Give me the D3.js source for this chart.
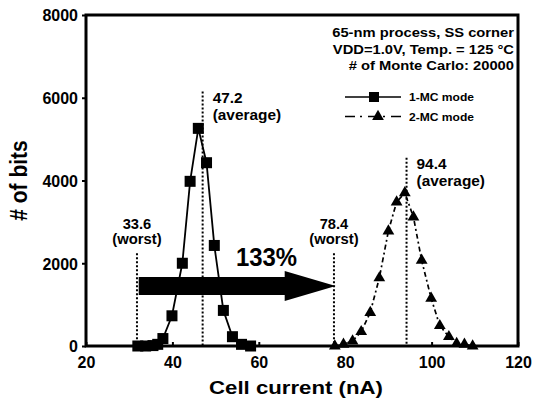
<!DOCTYPE html>
<html><head><meta charset="utf-8">
<script src="https://cdn.jsdelivr.net/npm/d3@7"></script>
<style>body{margin:0;background:#fff}svg{display:block}text{font-family:"Liberation Sans",Arial,sans-serif;font-weight:bold;fill:#000}</style>
</head><body><svg id="c" width="534" height="401"></svg>
<script>
// ---- data ----
const mc1X = [32.0, 33.8, 35.5, 36.6, 37.8, 39.9, 42.3, 44.1, 46.0, 47.9, 49.7, 51.8, 53.9, 56.0, 58.1];
const mc1Y = [0, 0, 10, 40, 180, 730, 2000, 3980, 5260, 4430, 2430, 860, 225, 40, 0];
const mc2X = [77.6, 79.6, 81.7, 83.7, 85.8, 87.9, 90.0, 91.9, 93.8, 95.8, 97.7, 99.9, 101.9, 104.0, 105.8, 107.6, 109.5];
const mc2Y = [0, 40, 120, 345, 810, 1645, 2780, 3480, 3700, 3115, 2070, 1150, 490, 225, 60, 40, 0];
const xTicks = [20, 40, 60, 80, 100, 120];
const yTicks = [0, 2000, 4000, 6000, 8000];
const refX = [31.8, 47.0, 77.4, 94.2];
const refTop = [2240, 6150, 2240, 4550];
const refVal = ["33.6", "47.2", "78.4", "94.4"];
const refKind = ["(worst)", "(average)", "(worst)", "(average)"];
const seriesNames = ["1-MC mode", "2-MC mode"];
const infoLines = ["65-nm process, SS corner", "VDD=1.0V, Temp. = 125 °C", "# of Monte Carlo: 20000"];
const arrowFrom = 32.2, arrowTo = 77.8, arrowLevel = 1450;
const gainLabel = "133%", gainX = 54.7, gainY = 1930;

// ---- layout ----
const svg = d3.select("#c");
const m = {l: 86, r: 16, t: 15, b: 55};
const W = 534, H = 401;
const x = d3.scaleLinear().domain([20, 120]).range([m.l, W - m.r]);
const y = d3.scaleLinear().domain([0, 8000]).range([H - m.b, m.t]);

function txt(g, s, px, py, size, sx, anchor) {
  return g.append("text").attr("transform", `translate(${px},${py}) scale(${sx},1)`)
    .attr("font-size", size).attr("text-anchor", anchor || "start").text(s);
}

// reference dotted lines
refX.forEach((v, i) => {
  svg.append("line").attr("x1", x(v)).attr("x2", x(v)).attr("y1", y(refTop[i])).attr("y2", y(0))
    .attr("stroke", "#000").attr("stroke-width", 2).attr("stroke-dasharray", "2,2");
});
// labels
[0, 2].forEach(i => {
  txt(svg, refVal[i], x(refX[i]), y(refTop[i]) - 24, 14, 1.05, "middle");
  txt(svg, refKind[i], x(refX[i]), y(refTop[i]) - 9, 14, 1.06, "middle");
});
[1, 3].forEach(i => {
  txt(svg, refVal[i], x(refX[i]) + 10, y(refTop[i]) + 11, 14, 1.1, "start");
  txt(svg, refKind[i], x(refX[i]) + 10, y(refTop[i]) + 28, 14, 1.1, "start");
});

// arrow
{
  const x0 = x(arrowFrom), x1 = x(arrowTo), yc = y(arrowLevel);
  const hb = x1 - 51;
  const p = [[x0, yc - 9], [hb, yc - 9], [hb, yc - 15], [x1, yc], [hb, yc + 15], [hb, yc + 9], [x0, yc + 9]];
  svg.append("path").attr("d", d3.line()(p) + "Z").attr("fill", "#000");
  txt(svg, gainLabel, x(gainX), y(gainY), 26, 0.92, "start");
}

// series
const s1 = mc1X.map((v, i) => [v, mc1Y[i]]);
const s2 = mc2X.map((v, i) => [v, mc2Y[i]]);
const line = d3.line().x(d => x(d[0])).y(d => y(d[1]));
svg.append("path").attr("d", line(s1)).attr("fill", "none").attr("stroke", "#000").attr("stroke-width", 1.8);
svg.append("path").attr("d", line(s2)).attr("fill", "none").attr("stroke", "#000").attr("stroke-width", 1.7)
  .attr("stroke-dasharray", "5,3,2,3");
svg.selectAll(".sq").data(s1).enter().append("rect")
  .attr("x", d => x(d[0]) - 5.5).attr("y", d => y(d[1]) - 5.5).attr("width", 11).attr("height", 11).attr("fill", "#000");
const tri = d3.symbol().type(d3.symbolTriangle).size(60);
svg.selectAll(".tr").data(s2).enter().append("path")
  .attr("d", tri).attr("transform", d => `translate(${x(d[0])},${y(d[1])})`).attr("fill", "#000");

// frame
const fr = svg.append("g").attr("stroke", "#000").attr("stroke-width", 3).attr("fill", "none");
fr.append("rect").attr("x", m.l).attr("y", m.t).attr("width", W - m.l - m.r).attr("height", H - m.t - m.b);
// axes
const xa = svg.append("g").attr("transform", `translate(0,${H - m.b})`)
  .call(d3.axisBottom(x).tickValues(xTicks).tickSize(-4).tickPadding(11).tickFormat(d3.format("d")));
const ya = svg.append("g").attr("transform", `translate(${m.l},0)`)
  .call(d3.axisLeft(y).tickValues(yTicks).tickSize(4).tickPadding(4).tickFormat(d3.format("d")));
[xa, ya].forEach(a => {
  a.select(".domain").remove();
  a.selectAll(".tick line").attr("stroke", "#000").attr("stroke-width", 2);
  a.selectAll("text").attr("font-size", 16).attr("font-family", '"Liberation Sans",Arial,sans-serif').attr("font-weight", "bold").attr("fill", "#000");
});
ya.selectAll("text").attr("dy", "0.36em");
xa.selectAll(".tick text").attr("dy", "0.71em");

// axis titles
txt(svg, "Cell current (nA)", (m.l + W - m.r) / 2 - 6, 394, 18.5, 1.2, "middle");
svg.append("text").attr("transform", `translate(26.5,${y(4000)}) rotate(-90) scale(1,1.15)`)
  .attr("font-size", 21).attr("text-anchor", "middle").text("# of bits");

// info text
infoLines.forEach((s, i) => txt(svg, s, 514, 37 + i * 16.5, 12.6, 1.17, "end"));

// legend
const lg = svg.append("g");
[0, 1].forEach(i => {
  const ly = 97 + i * 19.5;
  lg.append("line").attr("x1", 345).attr("x2", 401).attr("y1", ly).attr("y2", ly)
    .attr("stroke", "#000").attr("stroke-width", 1.6).attr("stroke-dasharray", i ? "10,5,2,6,0,0" : null);
  if (i === 0) lg.append("rect").attr("x", 369).attr("y", ly - 5).attr("width", 10).attr("height", 10).attr("fill", "#000");
  else lg.append("path").attr("d", tri).attr("transform", `translate(378,${ly})`).attr("fill", "#000");
  txt(lg, seriesNames[i], 409, ly + 4, 10.5, 1.15, "start");
});
</script></body></html>
